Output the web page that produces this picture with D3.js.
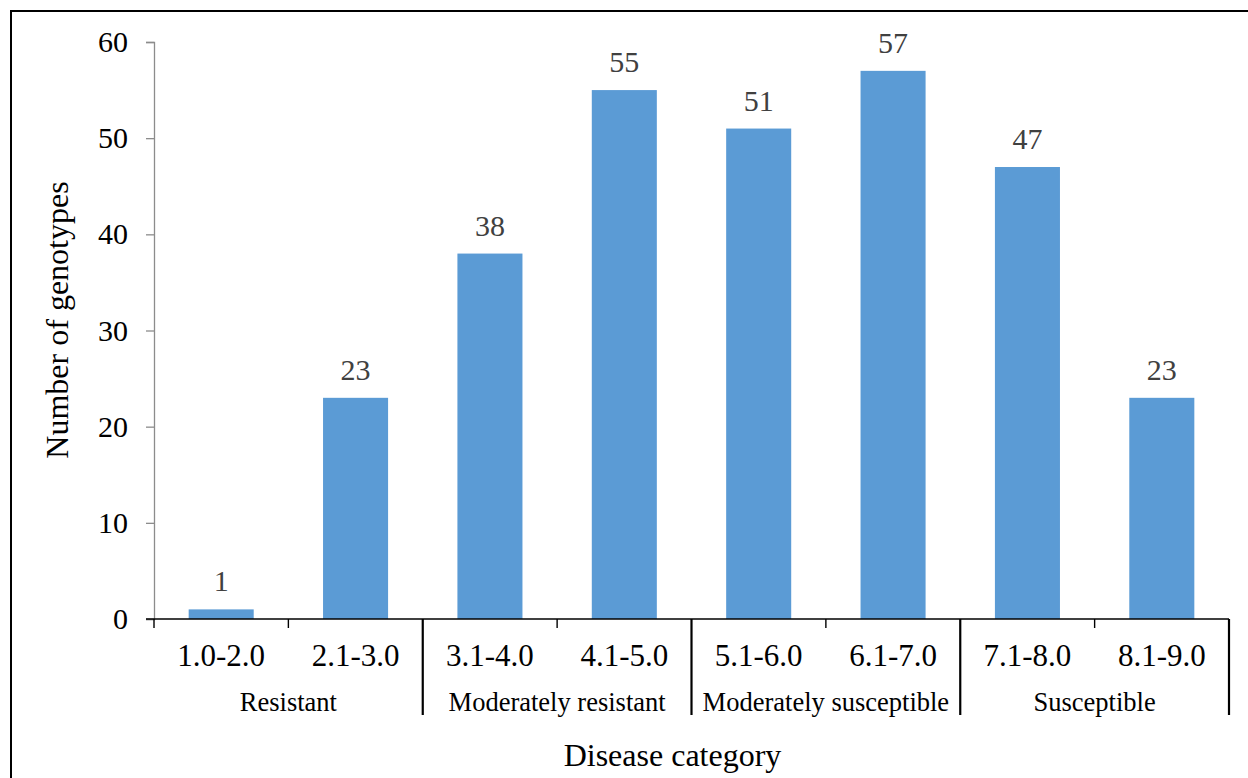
<!DOCTYPE html>
<html>
<head>
<meta charset="utf-8">
<script src="https://cdn.jsdelivr.net/npm/d3@7"></script>
<style>
  html, body { margin: 0; padding: 0; background: #fff; }
  svg { display: block; }
  text { font-family: "Liberation Serif", "Times New Roman", serif; }
</style>
</head>
<body>
<svg id="chart" width="1248" height="778"></svg>
<script>
// Disease score classes and how many genotypes fall in each
const categories = ["1.0-2.0", "2.1-3.0", "3.1-4.0", "4.1-5.0", "5.1-6.0", "6.1-7.0", "7.1-8.0", "8.1-9.0"];
const genotypeCounts = [1, 23, 38, 55, 51, 57, 47, 23];

// Reaction groups, each covering a run of consecutive score classes
const groupNames = ["Resistant", "Moderately resistant", "Moderately susceptible", "Susceptible"];
const groupSizes = [2, 2, 2, 2];

const yTicks = [0, 10, 20, 30, 40, 50, 60];

const svg = d3.select("#chart");
const W = 1248, H = 778;
const plot = { left: 154, right: 1229, top: 42, bottom: 619 };

// outer frame (runs off the right and bottom edges)
svg.append("rect")
  .attr("x", 11).attr("y", 11)
  .attr("width", W + 20).attr("height", H + 20)
  .attr("fill", "none").attr("stroke", "#000").attr("stroke-width", 2);

const x = d3.scaleBand()
  .domain(categories)
  .range([plot.left, plot.right])
  .paddingInner(0.516)
  .paddingOuter(0.258);

const y = d3.scaleLinear().domain([0, 60]).range([plot.bottom, plot.top]);

// y axis
const yAxis = svg.append("g")
  .attr("transform", `translate(${plot.left},0)`)
  .call(d3.axisLeft(y).tickValues(yTicks).tickSize(8).tickPadding(18));
yAxis.attr("font-family", null);
yAxis.select(".domain").attr("stroke", "#8c8c8c").attr("stroke-width", 1.3);
yAxis.selectAll(".tick line").attr("stroke", "#8c8c8c").attr("stroke-width", 1.3);
yAxis.selectAll(".tick text")
  .attr("font-size", 30).attr("fill", "#000");

// bars
svg.append("g").selectAll("rect")
  .data(categories)
  .join("rect")
  .attr("x", d => x(d))
  .attr("y", (d, i) => y(genotypeCounts[i]))
  .attr("width", x.bandwidth())
  .attr("height", (d, i) => y(0) - y(genotypeCounts[i]))
  .attr("fill", "#5b9bd5");

// value labels
svg.append("g").selectAll("text")
  .data(categories)
  .join("text")
  .attr("x", d => x(d) + x.bandwidth() / 2)
  .attr("y", (d, i) => y(genotypeCounts[i]) - 18)
  .attr("text-anchor", "middle")
  .attr("font-size", 30)
  .attr("fill", "#404040")
  .text((d, i) => genotypeCounts[i]);

// x axis line
svg.append("line")
  .attr("x1", plot.left - 8).attr("x2", plot.right)
  .attr("y1", y(0)).attr("y2", y(0))
  .attr("stroke", "#000").attr("stroke-width", 1.6);

// category boundaries: short ticks inside a group, long dividers between groups
const step = x.step();
const boundaries = d3.range(categories.length + 1).map(k => plot.left + k * step);
const groupEnds = d3.cumsum(groupSizes);
boundaries.forEach((bx, k) => {
  const isDivider = groupEnds.includes(k);
  svg.append("line")
    .attr("x1", bx).attr("x2", bx)
    .attr("y1", y(0))
    .attr("y2", isDivider ? y(0) + 96 : y(0) + 9)
    .attr("stroke", "#000")
    .attr("stroke-width", isDivider ? 2.2 : 1.4);
});

// category labels
svg.append("g").selectAll("text")
  .data(categories)
  .join("text")
  .attr("x", d => x(d) + x.bandwidth() / 2)
  .attr("y", y(0) + 47)
  .attr("text-anchor", "middle")
  .attr("font-size", 31)
  .attr("fill", "#000")
  .text(d => d);

// group labels
const groupStarts = [0, ...groupEnds.slice(0, -1)];
svg.append("g").selectAll("text")
  .data(groupNames)
  .join("text")
  .attr("x", (d, i) => plot.left + (groupStarts[i] + groupSizes[i] / 2) * step)
  .attr("y", y(0) + 92)
  .attr("text-anchor", "middle")
  .attr("font-size", 26.5)
  .attr("fill", "#000")
  .text(d => d);

// axis titles
svg.append("text")
  .attr("x", (plot.left + plot.right) / 2 - 19)
  .attr("y", 766)
  .attr("text-anchor", "middle")
  .attr("font-size", 32)
  .attr("fill", "#000")
  .text("Disease category");

svg.append("text")
  .attr("transform", `translate(68,320) rotate(-90)`)
  .attr("text-anchor", "middle")
  .attr("font-size", 32)
  .attr("fill", "#000")
  .text("Number of genotypes");
</script>
</body>
</html>
